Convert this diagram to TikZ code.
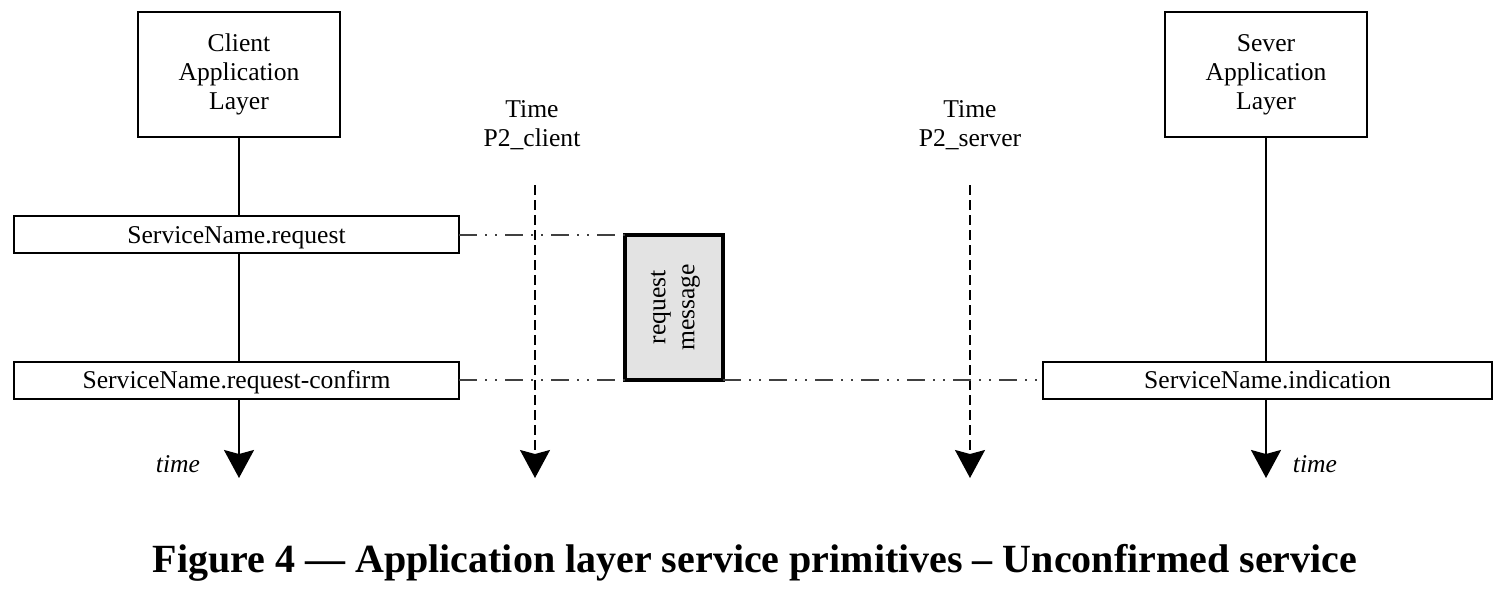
\documentclass[tikz,border=0pt]{standalone}
\usepackage{fontspec}
\setmainfont{Liberation Serif}
\usetikzlibrary{positioning,arrows.meta}

\begin{document}
\begin{tikzpicture}[
  x=0.5pt, y=-0.5pt,
  font=\fontsize{12.8}{14.5}\selectfont,
  outer sep=0pt,
  layer/.style={draw, line width=1pt, fill=white, align=center, minimum width=101pt, minimum height=62.5pt},
  prim/.style={draw, line width=1pt, fill=white, minimum width=222.5pt, minimum height=18.5pt, inner sep=0pt, text height=9pt, text depth=0.5pt},
  msg/.style={draw, line width=2pt, fill=gray!22, minimum width=49pt, minimum height=72.75pt, inner sep=0pt, align=center},
  life/.style={line width=1pt, -{Stealth[length=14pt, width=15pt, inset=2pt]}},
  clock/.style={life, line width=0.75pt, dash pattern=on 5pt off 2.5pt},
  link/.style={line width=1pt, draw=black!75, dash pattern=on 9pt off 4pt on 1pt off 4pt on 1pt off 4pt}
]
\useasboundingbox (0,0) rectangle (1509,590);

% Schichten oben
\node[layer] (cli) at (239,74.5) {Client\\Application\\Layer};
\node[layer] (srv) at (1266,74.5) {Sever\\Application\\Layer};

% Zeitachsen
\node[align=center] (tcli) at (532,125) {Time\\P2\_client};
\node[align=center] (tsrv) at (970,125) {Time\\P2\_server};
\coordinate (tcliTop) at (535,185);
\coordinate (tsrvTop) at (970,185);
\coordinate (tcliEnd) at (535,478);
\coordinate (tsrvEnd) at (970,478);

% Dienstprimitive
\node[prim] (req) at (236.5,234.5) {ServiceName.request};
\node[prim] (conf) at (236.5,380) {ServiceName.request-confirm};
\node[prim, minimum width=224.5pt] (ind) at (1267.5,380) {ServiceName.indication};
\node[msg] (msg) at (674,307.25) {\rotatebox{90}{\begin{tabular}{@{}c@{}}request\\message\end{tabular}}};
\coordinate (cliEnd) at (cli.south |- tcliEnd);
\coordinate (srvEnd) at (srv.south |- tsrvEnd);

% Lebenslinien
\draw[line width=1pt] (cli.south) -- (cli.south |- req.north);
\draw[line width=1pt] (cli.south |- req.south) -- (cli.south |- conf.north);
\draw[life] (cli.south |- conf.south) -- (cliEnd);
\draw[line width=1pt] (srv.south) -- (srv.south |- ind.north);
\draw[life] (srv.south |- ind.south) -- (srvEnd);
\draw[clock] (tcliTop) -- (tcliEnd);
\draw[clock] (tsrvTop) -- (tsrvEnd);

% Nachricht
\draw[link] (req.east) -- (msg.north west);
\draw[link] (conf.east) -- (msg.south west);
\draw[link] (msg.south east) -- (ind.west);

\node[font=\fontsize{12.8}{14.5}\selectfont\itshape] (tl) at (178,464) {time};
\node[font=\fontsize{12.8}{14.5}\selectfont\itshape] (tr) at (1315,464) {time};

% Bildunterschrift
\node[font=\fontsize{20}{24}\selectfont\bfseries] (cap) at (755,563) {Figure 4 — Application layer service primitives – Unconfirmed service};

\end{tikzpicture}
\end{document}
